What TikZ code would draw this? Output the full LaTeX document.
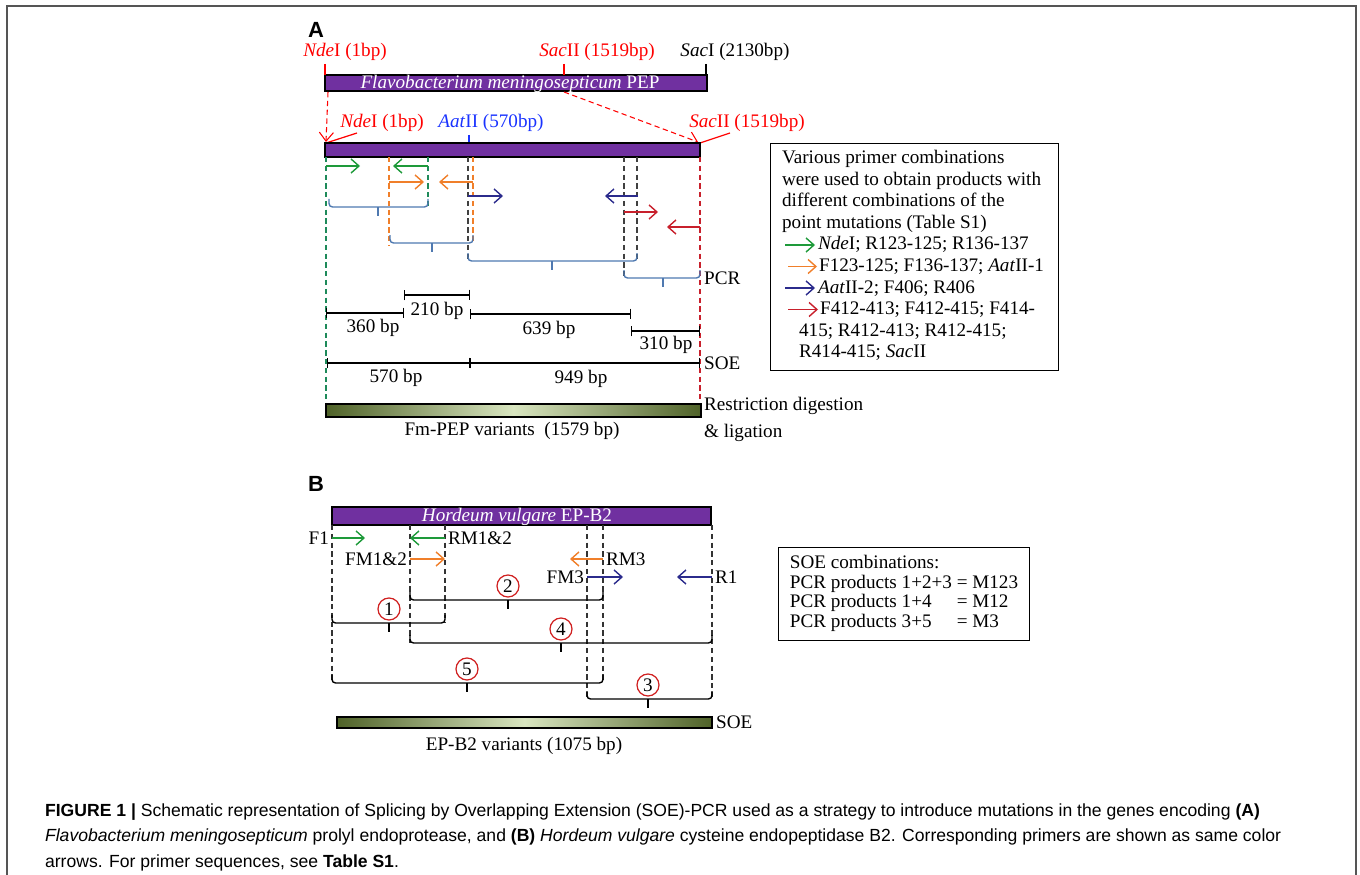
\documentclass[tikz,border=0pt]{standalone}
\usepackage{fontspec}
\setmainfont{Liberation Serif}
\setsansfont{Liberation Sans}
\usepackage{xcolor}
\usetikzlibrary{arrows.meta, positioning}
\definecolor{PepPurple}{HTML}{7030A0}
\definecolor{PrimGreen}{HTML}{1E9A3A}
\definecolor{PrimOrange}{HTML}{F07F2A}
\definecolor{PrimNavy}{HTML}{2B2B8C}
\definecolor{PrimRed}{HTML}{C8202C}
\definecolor{SiteRed}{HTML}{FF0000}
\definecolor{SiteBlue}{HTML}{1A33FF}
\definecolor{BraceBlue}{HTML}{4F79B0}
\definecolor{BarDark}{HTML}{4F6228}
\definecolor{BarLight}{HTML}{D9E6C0}
\definecolor{GuideGreen}{HTML}{1E8A5A}
\definecolor{CircRed}{HTML}{D02020}
\definecolor{FrameGray}{HTML}{555555}

\begin{document}
\begin{tikzpicture}[
    x=0.02cm, y=-0.02cm,
    every node/.style={font=\fontsize{10.9}{12.5}\selectfont, inner sep=1pt},
    gene/.style={draw=black, fill=PepPurple, line width=0.6pt},
    genetext/.style={text=white},
    product/.style={draw=black, line width=0.6pt, left color=BarDark, right color=BarDark, middle color=BarLight},
    primer/.style={-{Straight Barb[length=4.5pt, width=8pt]}, line width=0.8pt},
    guide/.style={dash pattern=on 3pt off 2pt, line width=0.6pt},
    brkA/.style={BraceBlue, line width=0.8pt, rounded corners=2pt},
    brkB/.style={black, line width=0.8pt, rounded corners=2pt},
    dimline/.style={{Bar[width=6pt]}-{Bar[width=6pt]}, line width=0.7pt},
    num/.style={circle, draw=CircRed, line width=0.7pt, inner sep=0pt, minimum size=0.44cm},
    panel/.style={font=\sffamily\bfseries\fontsize{12.5}{14}\selectfont}
]
\useasboundingbox (0,0) rectangle (1360,875);
\draw[FrameGray, line width=1.1pt] (7,880) -- (7,6) -- (1356,6) -- (1356,880);

% Panel A: full-length gene
\node[panel] (labA) at (316,30) {A};
\draw[gene] (325,75) rectangle (707,91);
\node[genetext] (pep) at (510,84) {\textit{Flavobacterium meningosepticum} PEP};
\draw[SiteRed, line width=0.7pt] (325,64) -- (325,75) (564,64) -- (564,75);
\draw[line width=0.7pt] (706,64) -- (706,75);
\node[SiteRed] (nde1) at (345,52) {\textit{Nde}I (1bp)};
\node[SiteRed] (sac2) at (597,52) {\textit{Sac}II (1519bp)};
\node (sac1) at (735,52) {\textit{Sac}I (2130bp)};

% Panel A: cloned fragment
\draw[SiteRed, guide, -{Straight Barb[length=5pt, width=8pt]}] (328,92) -- (326,142);
\draw[SiteRed, guide, -{Straight Barb[length=5pt, width=8pt]}] (564,92) -- (698,142);
\draw[SiteRed, line width=0.7pt] (326,143) -- (357,133) (700,143) -- (730,133);
\draw[SiteBlue, line width=0.7pt] (469,135) -- (469,143);
\node[SiteRed] (nde2) at (382,123) {\textit{Nde}I (1bp)};
\node[SiteBlue] (aat) at (491,123) {\textit{Aat}II (570bp)};
\node[SiteRed] (sac3) at (747,123) {\textit{Sac}II (1519bp)};
\draw[gene] (325,143) rectangle (700,157);

% Panel A: primer positions
\draw[guide, GuideGreen] (326,157) -- (326,404) (428,157) -- (428,207);
\draw[guide, PrimOrange] (389,157) -- (389,245) (473,157) -- (473,243);
\draw[guide, black!75] (468,157) -- (468,262) (624,157) -- (624,278) (637,157) -- (637,262);
\draw[guide, PrimRed] (700,157) -- (700,404);
\foreach \xs/\xe/\yy/\cc in {326/360/166/PrimGreen, 428/393/166/PrimGreen,
    389/424/182/PrimOrange, 473/439/182/PrimOrange, 468/503/196/PrimNavy,
    638/605/196/PrimNavy, 624/658/212/PrimRed, 700/667/227/PrimRed}
  \draw[primer, color=\cc] (\xs,\yy) -- (\xe,\yy);

% Panel A: PCR products
\foreach \xa/\xb/\yy/\xm in {329/428/207/378, 390/473/243/432, 468/637/261/552, 624/700/278/663}{
  \draw[brkA] (\xa,\yy-8) |- (\xm,\yy) -| (\xb,\yy-8);
  \draw[brkA] (\xm,\yy) -- (\xm,\yy+9);
}
\node[anchor=west] (pcrA) at (702,278) {PCR};

% Panel A: fragment sizes
\draw[dimline] (404,295) -- (470,295);
\draw[dimline] (326,313) -- (404,313);
\draw[dimline] (470,314) -- (631,314);
\draw[dimline] (631,331) -- (700,331);
\node (s210) at (437,311) {210 bp};
\node (s360) at (373,328) {360 bp};
\node (s639) at (549,330) {639 bp};
\node (s310) at (666,345) {310 bp};
\draw[dimline] (327,363) -- (470,363);
\draw[dimline] (470,363) -- (700,363);
\node (s570) at (396,378) {570 bp};
\node (s949) at (581,379) {949 bp};
\node[anchor=west] (soeA) at (702,363) {SOE};

% Panel A: final product
\shadedraw[product] (326,404) rectangle (701,417);
\node (fmpep) at (512,431) {Fm-PEP variants\ \ (1579 bp)};
\node[anchor=west, align=left, font=\fontsize{10.9}{15.3}\selectfont] (restr) at (702,419) {Restriction digestion\\\& ligation};

% Panel A: legend
\node[draw, line width=0.6pt, anchor=north west, minimum width=5.76cm, minimum height=4.54cm] (legA) at (770,143) {};
\node[anchor=base west] (la1) at (780,163.5) {Various primer combinations};
\node[anchor=base west] (la2) at (780,185.1) {were used to obtain products with};
\node[anchor=base west] (la3) at (780,206.7) {different combinations of the};
\node[anchor=base west] (la4) at (780,228.3) {point mutations (Table S1)};
\node[anchor=base west] (la5) at (816,249.9) {\textit{Nde}I; R123-125; R136-137};
\node[anchor=base west] (la6) at (817,271.5) {F123-125; F136-137; \textit{Aat}II-1};
\node[anchor=base west] (la7) at (816,293.1) {\textit{Aat}II-2; F406; R406};
\node[anchor=base west] (la8) at (818,314.7) {F412-413; F412-415; F414-};
\node[anchor=base west] (la9) at (797,336.3) {415; R412-413; R412-415;};
\node[anchor=base west] (la10) at (797,357.9) {R414-415; \textit{Sac}II};
\draw[primer, PrimGreen] (785,245) -- (815,245);
\draw[primer, PrimOrange] (788,266.5) -- (817,266.5);
\draw[primer, PrimNavy] (785,288) -- (815,288);
\draw[primer, PrimRed] (788,309.5) -- (818,309.5);

% Panel B: gene
\node[panel] (labB) at (316,484) {B};
\draw[gene] (332,507) rectangle (711,525);
\node[genetext] (hv) at (517,517) {\textit{Hordeum vulgare} EP-B2};

% Panel B: primer positions
\draw[guide, black!80] (332,525) -- (332,683) (410,525) -- (410,643) (445,525) -- (445,623)
  (587,525) -- (587,699) (603,525) -- (603,683) (712,525) -- (712,699);
\foreach \xs/\xe/\yy/\cc in {332/365/538/PrimGreen, 445/410/538/PrimGreen,
    410/445/559/PrimOrange, 603/570/559/PrimOrange, 587/623/577/PrimNavy, 712/677/577/PrimNavy}
  \draw[primer, color=\cc] (\xs,\yy) -- (\xe,\yy);
\node[anchor=east] (f1) at (331,538) {F1};
\node[anchor=west] (rm12) at (446,538) {RM1\&2};
\node[anchor=east] (fm12) at (409,559) {FM1\&2};
\node[anchor=west] (rm3) at (604,559) {RM3};
\node[anchor=east] (fm3) at (586,577) {FM3};
\node[anchor=west] (r1) at (713,577) {R1};

% Panel B: PCR products
\foreach \xa/\xb/\yy/\xm/\nn in {410/603/600/508/2, 332/445/623/389/1, 410/712/643/561/4,
    332/603/683/467/5, 587/712/699/648/3}{
  \draw[brkB] (\xa,\yy-8) |- (\xm,\yy) -| (\xb,\yy-8);
  \draw[brkB] (\xm,\yy) -- (\xm,\yy+9);
  \node[num] (p\nn) at (\xm,\yy-14) {\nn};
}

% Panel B: final product
\shadedraw[product] (337,717) rectangle (712,728);
\node[anchor=west] (soeB) at (714,722) {SOE};
\node (epb2) at (524,746) {EP-B2 variants (1075 bp)};

% Panel B: legend
\node[draw, line width=0.6pt, anchor=north west, inner xsep=6.5pt, inner ysep=4pt, font=\fontsize{10.9}{11.2}\selectfont] (legB) at (778,547) {%
  \begin{tabular}{@{}l@{ }l@{}}
  \multicolumn{2}{@{}l@{}}{SOE combinations:}\\
  PCR products 1+2+3 & = M123\\
  PCR products 1+4 & = M12\\
  PCR products 3+5 & = M3
  \end{tabular}};

% Caption
\node[anchor=base west, align=left, font=\sffamily\fontsize{10}{14.5}\selectfont] (cap) at (43,867) {%
  \textbf{FIGURE 1 |} Schematic representation of Splicing by Overlapping Extension (SOE)-PCR used as a strategy to introduce mutations in the genes encoding \textbf{(A)}\\
  \textit{Flavobacterium meningosepticum} prolyl endoprotease, and \textbf{(B)} \textit{Hordeum vulgare} cysteine endopeptidase B2. Corresponding primers are shown as same color\\
  arrows. For primer sequences, see \textbf{Table S1}.};

\end{tikzpicture}
\end{document}
